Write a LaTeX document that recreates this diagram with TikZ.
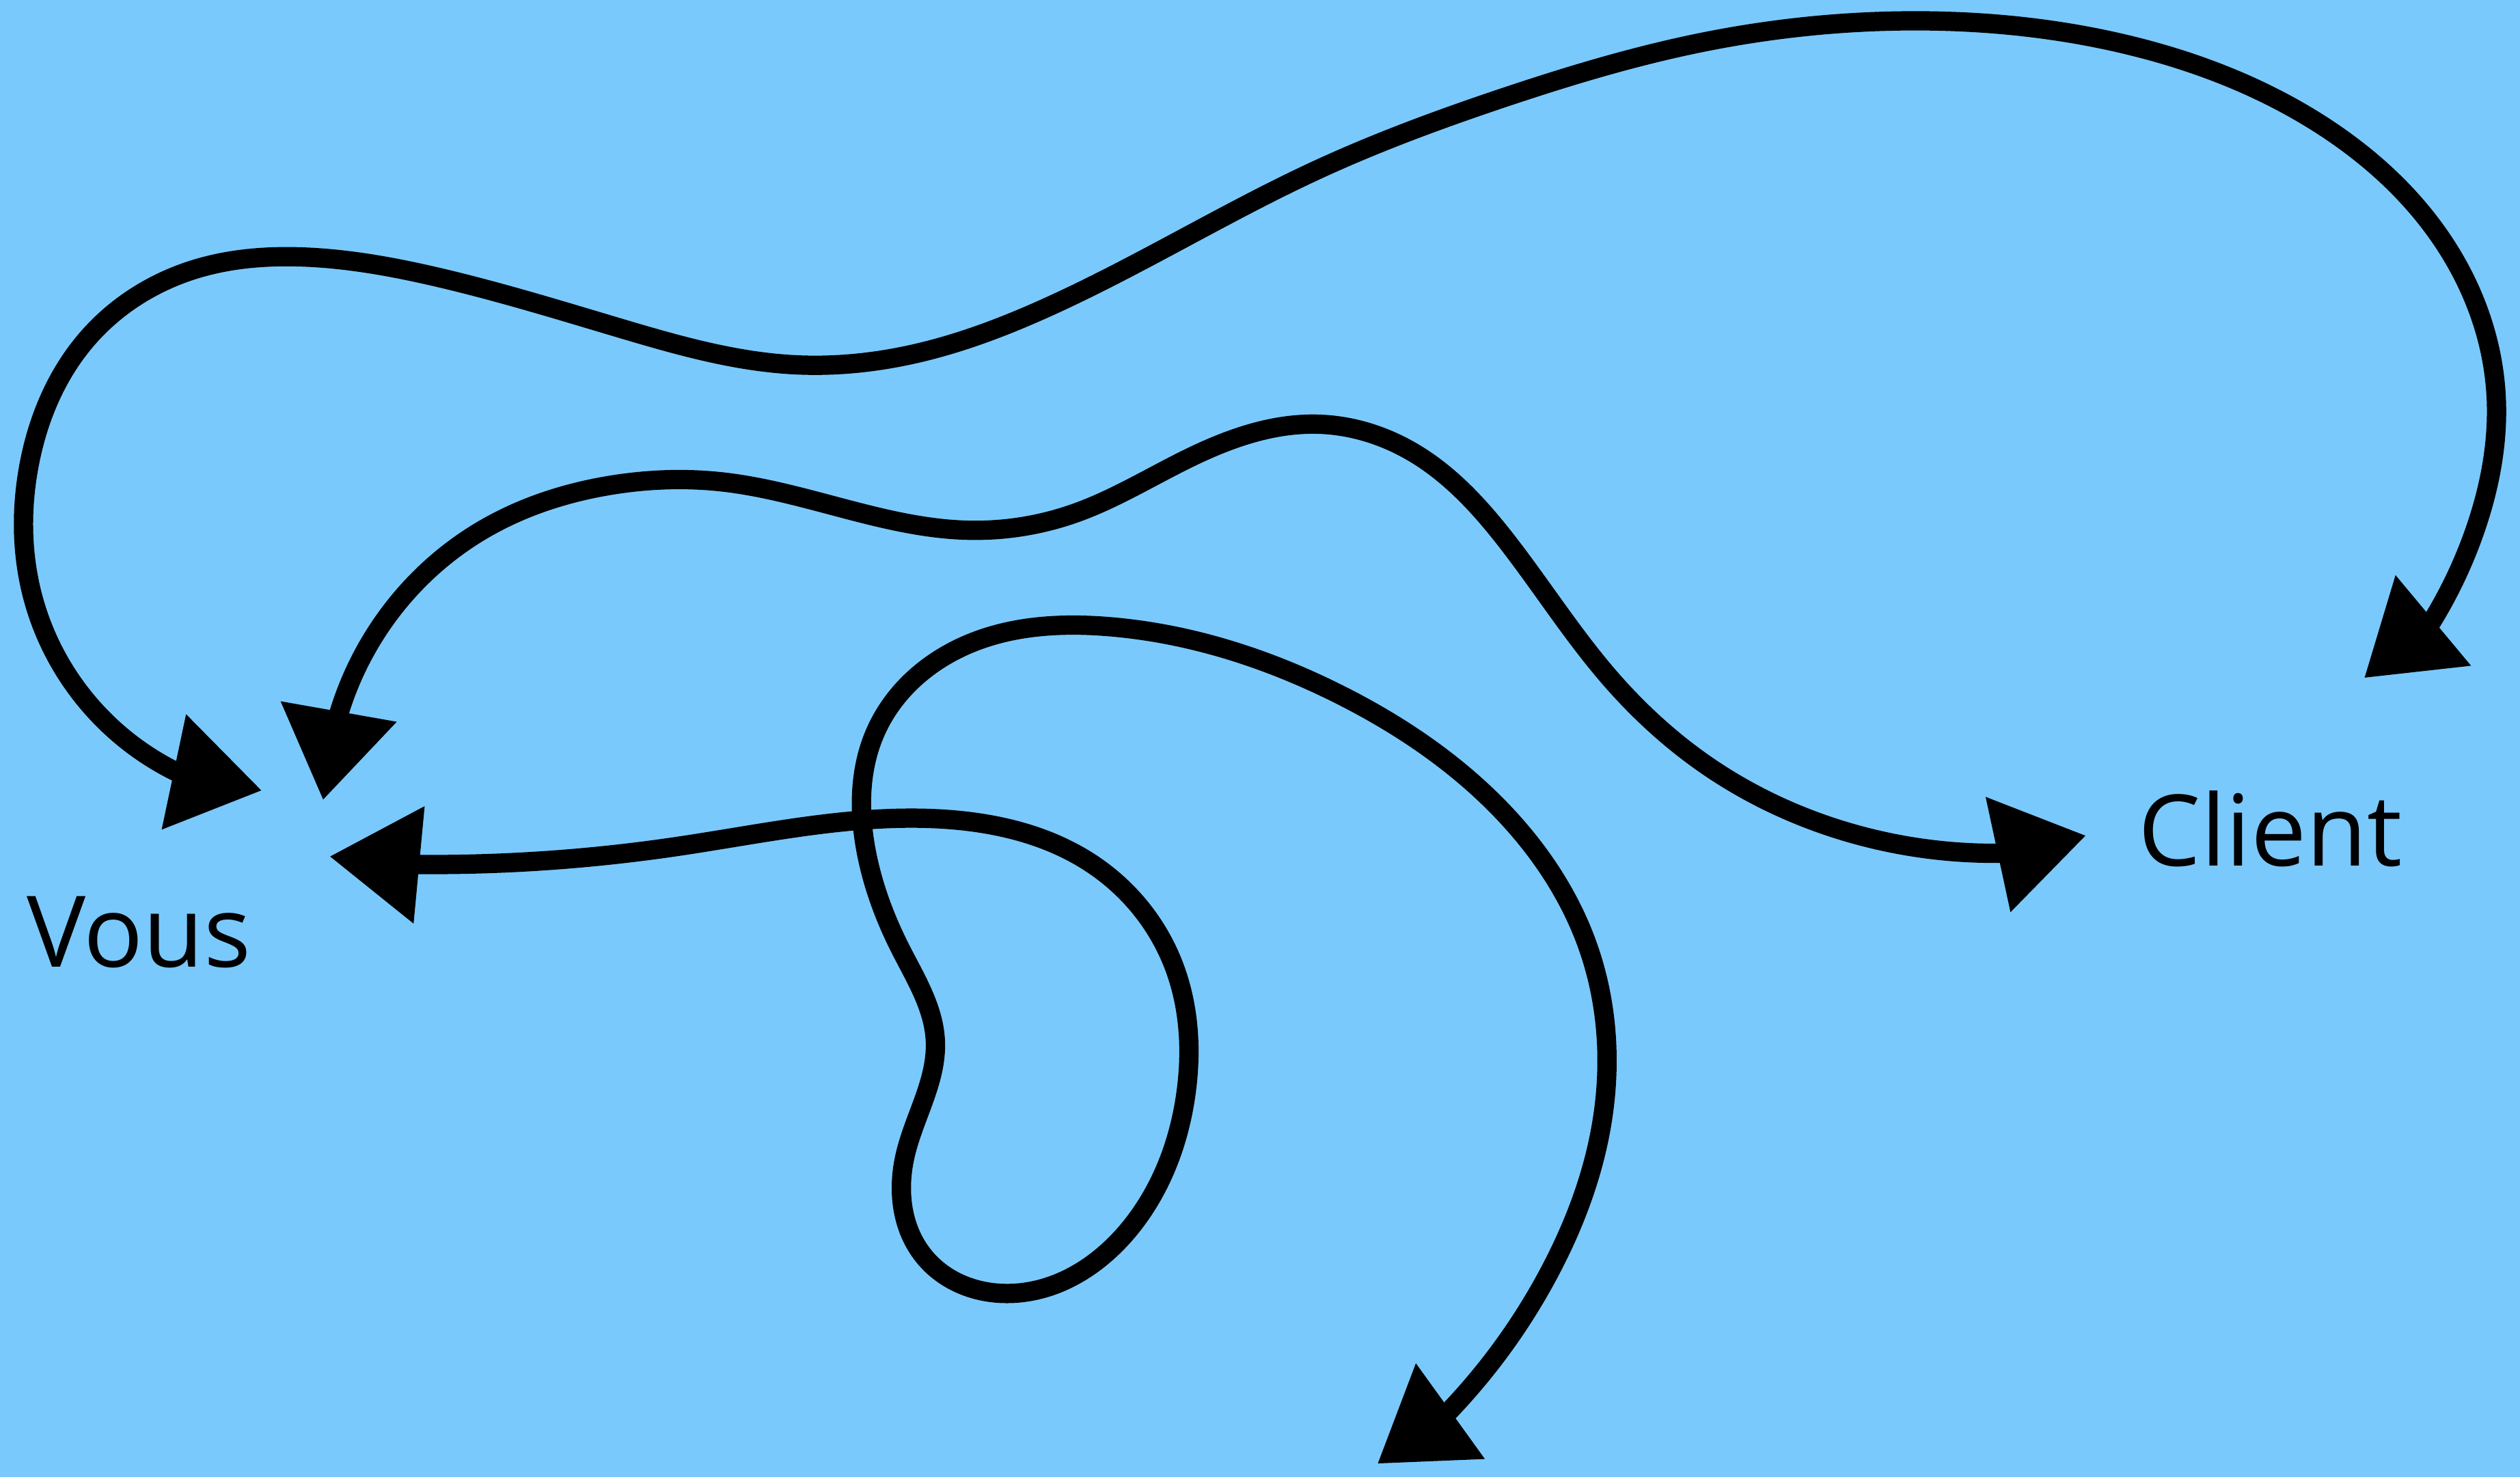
\documentclass[tikz,border=0pt]{standalone}
\usepackage{fontspec}
\setmainfont{Open Sans}
\usetikzlibrary{arrows.meta, positioning, hobby}
\definecolor{skyblue}{RGB}{122,201,252}

\begin{document}
\begin{tikzpicture}[x=0.01cm, y=-0.01cm, use Hobby shortcut,
    chalk/.style={line width=0.12cm, line cap=round, line join=round,
      {Triangle[length=0.56cm, width=0.7cm]}-{Triangle[length=0.56cm, width=0.7cm]}},
    word/.style={font=\fontsize{17.5}{20}\selectfont, anchor=base west, inner sep=0pt}]
  % background
  \fill[skyblue] (0,0) rectangle (1568,919);
  \useasboundingbox (0,0) rectangle (1568,919);

  % labels
  \node[word] (vous) at (16,602) {Vous};
  \node[word] (client) at (1330,539) {Client};

  % arrow ends
  \coordinate (topv) at (163,492);
  \coordinate (topc) at (1471,422);
  \coordinate (midv) at (201,498);
  \coordinate (midc) at (1298,520);
  \coordinate (lowv) at (205,533);
  \coordinate (lowe) at (857,911);

  % top arrow
  \draw[chalk] (topv) -- (111,481) .. (57,440) .. (20,370) .. (18,290)
    .. (55,210) .. (120,168) .. (190,160) .. (270,172) .. (385,204)
    .. (494,227) .. (570,220) .. (650,192) .. (819,106) .. (935,61)
    .. (1056,27) .. (1198,13) .. (1320,27) .. (1440,75) .. (1520,150)
    .. (1553,244) .. (1540,330) .. (1513,387) -- (topc);

  % middle arrow
  \draw[chalk] (midv) -- (210,447) .. (240,385) .. (300,330) .. (380,302)
    .. (450,300) .. (602,330) .. (670,319) .. (740,285) .. (820,264)
    .. (880,282) .. (940,340) .. (1000,420) .. (1060,475) .. (1150,518)
    .. (1247,531) -- (midc);

  % lower arrow with loop
  \draw[chalk] (lowv) -- (258,538) .. (420,527) .. (590,510) .. (680,538)
    .. (730,600) .. (738,680) .. (705,762) .. (628,805) .. (575,782)
    .. (563,720) .. (582,648) .. (560,590) .. (539,530) .. (545,455)
    .. (600,402) .. (690,390) .. (835,433) .. (930,500) .. (988,589)
    .. (998,690) .. (965,790) .. (900,880) -- (lowe);
\end{tikzpicture}
\end{document}
